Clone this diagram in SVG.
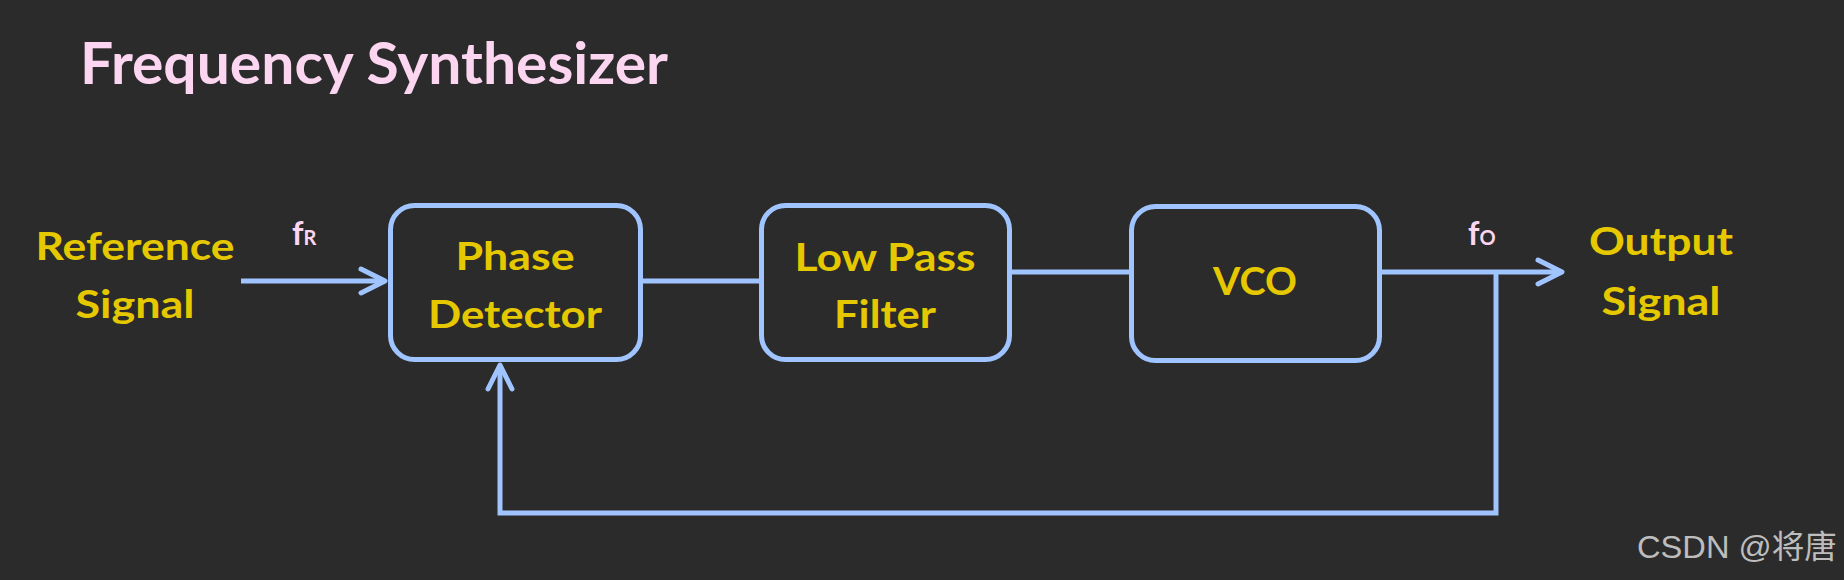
<svg xmlns="http://www.w3.org/2000/svg" width="1844" height="580" viewBox="0 0 1844 580">
<style>
.bg{fill:#2B2B2B}
.box{fill:#2B2B2B;stroke:#A0C4FF;stroke-width:5}
.ln{fill:none;stroke:#A0C4FF;stroke-width:5;stroke-linejoin:miter}
.lbl{font-family:Lato,"Open Sans",sans-serif;font-weight:bold;font-size:39px;fill:#E6C800;text-anchor:middle}
.title{font-family:Lato,"Open Sans",sans-serif;font-weight:bold;font-size:57px;fill:#FCD6F1}
.fq{font-family:Lato,"Open Sans",sans-serif;font-weight:bold;font-size:32px;fill:#FCD6F1}
.wm{font-family:"Liberation Sans","Noto Sans CJK SC",sans-serif;font-size:32px;fill:#BDBDBD}
</style>
<defs>
<marker id="arr" markerUnits="userSpaceOnUse" markerWidth="40" markerHeight="40" viewBox="-30 -20 40 40" refX="0" refY="0" orient="auto" overflow="visible">
<path d="M-24,-12 L0,0 L-24,12" fill="none" stroke="#A0C4FF" stroke-width="5" stroke-linecap="round" stroke-linejoin="round"/>
</marker>
</defs>
<rect class="bg" x="0" y="0" width="1844" height="580"/>
<text id="title" class="title" x="80" y="84" textLength="588" lengthAdjust="spacingAndGlyphs">Frequency Synthesizer</text>
<g id="connectors">
<path class="ln" d="M241,281 H385" marker-end="url(#arr)"/>
<path class="ln" d="M640,281 H762"/>
<path class="ln" d="M1009,272 H1132"/>
<path class="ln" d="M1379,272 H1562" marker-end="url(#arr)"/>
<path class="ln" d="M1496,272 V513 H500 V365" marker-end="url(#arr)"/>
</g>
<g id="reference-signal">
<text class="lbl" x="135" y="260" textLength="199" lengthAdjust="spacingAndGlyphs">Reference</text>
<text class="lbl" x="135" y="318" textLength="119" lengthAdjust="spacingAndGlyphs">Signal</text>
</g>
<g id="fR"><text class="fq" x="292" y="245">f<tspan font-size="20">R</tspan></text></g>
<g id="phase-detector">
<rect class="box" x="390.5" y="205.5" width="250" height="154" rx="24"/>
<text class="lbl" x="515" y="270" textLength="119" lengthAdjust="spacingAndGlyphs">Phase</text>
<text class="lbl" x="515" y="328" textLength="174" lengthAdjust="spacingAndGlyphs">Detector</text>
</g>
<g id="low-pass-filter">
<rect class="box" x="761.5" y="205.5" width="248" height="154" rx="24"/>
<text class="lbl" x="885" y="271" textLength="181" lengthAdjust="spacingAndGlyphs">Low Pass</text>
<text class="lbl" x="885" y="328" textLength="102" lengthAdjust="spacingAndGlyphs">Filter</text>
</g>
<g id="vco">
<rect class="box" x="1131.5" y="206.5" width="248" height="154" rx="24"/>
<text class="lbl" x="1255" y="295" textLength="84" lengthAdjust="spacingAndGlyphs">VCO</text>
</g>
<g id="fO"><text class="fq" x="1468" y="245">f<tspan font-size="20">O</tspan></text></g>
<g id="output-signal">
<text class="lbl" x="1661" y="255" textLength="144" lengthAdjust="spacingAndGlyphs">Output</text>
<text class="lbl" x="1661" y="315" textLength="119" lengthAdjust="spacingAndGlyphs">Signal</text>
</g>
<text class="wm" x="1637" y="558" textLength="200" lengthAdjust="spacingAndGlyphs">CSDN @将唐</text>
</svg>
